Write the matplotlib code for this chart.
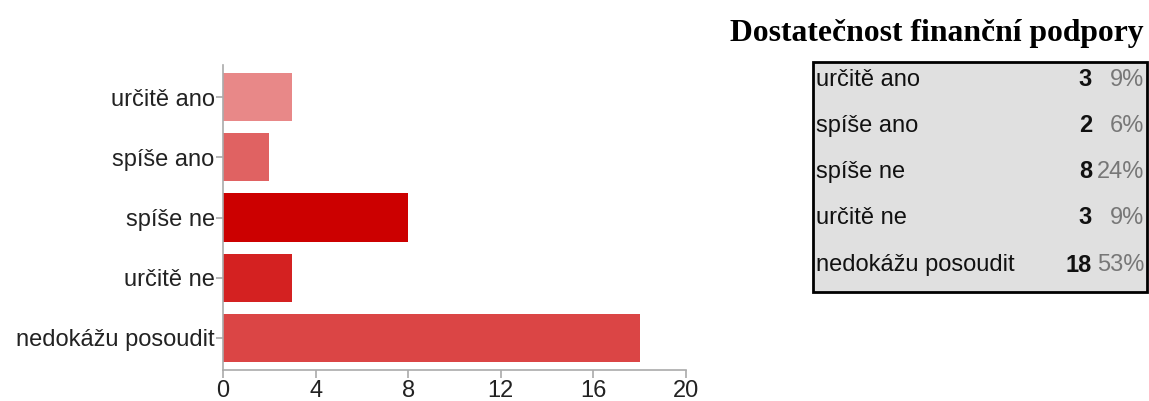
import matplotlib
matplotlib.use("Agg")
from matplotlib import pyplot as plt
from matplotlib.patches import Rectangle

categories = ["určitě ano", "spíše ano", "spíše ne", "určitě ne", "nedokážu posoudit"]
counts = [3, 2, 8, 3, 18]
percents = ["9%", "6%", "24%", "9%", "53%"]
colors = ["#e88888", "#e06262", "#cc0000", "#d42121", "#db4545"]
xticks = [0, 4, 8, 12, 16, 20]
title = "Dostatečnost finanční podpory"

W, H = 1149, 401
fig = plt.figure(figsize=(W / 100, H / 100), dpi=100)

# bar chart axes (pixel positions from reference)
x0, x1, y0, y1 = 223, 686, 65, 370
ax = fig.add_axes([x0 / W, 1 - y1 / H, (x1 - x0) / W, (y1 - y0) / H])
ypos = list(range(len(categories)))
ax.barh(ypos, counts, height=0.8, color=colors, edgecolor="none")
ax.set_xlim(0, 20)
ax.set_ylim(4.54, -0.54)
ax.set_yticks(ypos)
ax.set_yticklabels(categories, fontfamily="Liberation Sans", fontsize=17, color="#222222")
ax.set_xticks(xticks)
ax.set_xticklabels([str(t) for t in xticks], fontfamily="Liberation Sans", fontsize=17, color="#222222")
for s in ["top", "right"]:
    ax.spines[s].set_visible(False)
for s in ["left", "bottom"]:
    ax.spines[s].set_color("#aaaaaa")
    ax.spines[s].set_linewidth(1.2)
ax.tick_params(axis="y", length=5, color="#aaaaaa", width=1.2, pad=1)
ax.tick_params(axis="x", length=6, color="#aaaaaa", width=1.2, pad=1)

# title
fig.text(1143 / W, 1 - 34 / H, title, ha="right", va="center",
         fontfamily="Liberation Serif", fontweight="bold", fontsize=22.8)

# summary table
bx0, bx1, by0, by1 = 813, 1147, 62, 292
fig.patches.append(Rectangle((bx0 / W, 1 - by1 / H), (bx1 - bx0) / W, (by1 - by0) / H,
                             transform=fig.transFigure, facecolor="#e0e0e0",
                             edgecolor="black", linewidth=2))
row_y = [80, 126, 172, 218, 265]
for cat, c, p, ry in zip(categories, counts, percents, row_y):
    fig.text(816 / W, 1 - ry / H, cat, ha="left", va="center",
             fontfamily="Liberation Sans", fontsize=17, color="#111111")
    fig.text(1092 / W, 1 - ry / H, str(c), ha="right", va="center",
             fontfamily="Liberation Sans", fontweight="bold", fontsize=17, color="#111111")
    fig.text(1144 / W, 1 - ry / H, p, ha="right", va="center",
             fontfamily="Liberation Sans", fontsize=17, color="#777777")

fig.savefig("out.png", dpi=100)
